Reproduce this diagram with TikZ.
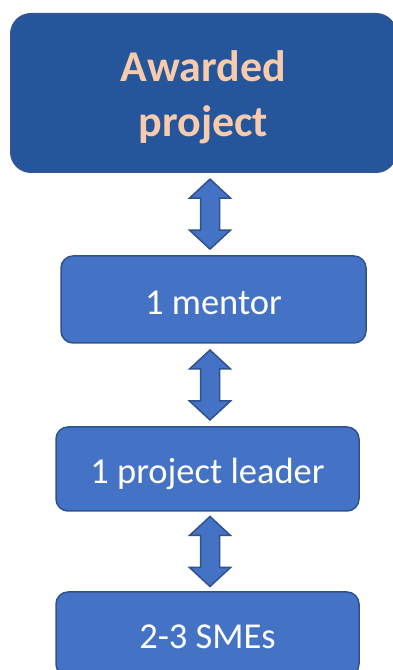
\documentclass[tikz,border=0pt]{standalone}
\usepackage{fontspec}
\setmainfont{Carlito}
\usetikzlibrary{calc}
\usepackage{xcolor}

\definecolor{boxblue}{HTML}{4472C4}
\definecolor{boxline}{HTML}{2F528F}
\definecolor{topblue}{HTML}{25559A}
\definecolor{topline}{HTML}{2F5597}
\definecolor{peach}{HTML}{F8CBAD}

\tikzset{
  rolebox/.style={draw=boxline, line width=1.5pt, fill=boxblue, rounded corners=12pt,
    text=white, font=\fontsize{36.5}{44}\selectfont, inner sep=0pt,
    text height=31pt, text depth=1.5pt},
  topbox/.style={draw=topline, line width=2pt, fill=topblue, rounded corners=20pt,
    text=peach, font=\bfseries\fontsize{44}{55}\selectfont, align=center, inner sep=0pt},
  linkarrow/.style={draw=boxline, line width=1.5pt, fill=boxblue, line join=miter}
}

% fat two-headed arrow half way between two boxes
\newcommand{\linkarrow}[2]{%
  \path ($(#1.south)!.5!(#2.north)$) coordinate (mid);
  \draw[linkarrow] ($(mid -| axis)+(0,35)$) -- ++(20.5,-19) -- ++(-11,0) -- ++(0,-32)
    -- ++(11,0) -- ++(-20.5,-19) -- ++(-20.5,19) -- ++(11,0) -- ++(0,32) -- ++(-11,0) -- cycle;
}

\begin{document}
\begin{tikzpicture}[x=1pt,y=1pt]
\useasboundingbox (0,0) rectangle (393,670);
\coordinate (axis) at (210,0);

\node[topbox, minimum width=385pt, minimum height=158pt] (award) at (203.5,577) {\rule{0pt}{39pt}Awarded\\project};
\node[rolebox, minimum width=305pt, minimum height=87pt] (mentor) at (213.5,370.5) {1 mentor};
\node[rolebox, minimum width=303pt, minimum height=84pt] (leader) at (207.5,201) {1 project leader};
\node[rolebox, minimum width=303pt, minimum height=84pt] (smes) at (207.5,36) {2-3 SMEs};

\linkarrow{award}{mentor}
\linkarrow{mentor}{leader}
\linkarrow{leader}{smes}
\end{tikzpicture}
\end{document}
